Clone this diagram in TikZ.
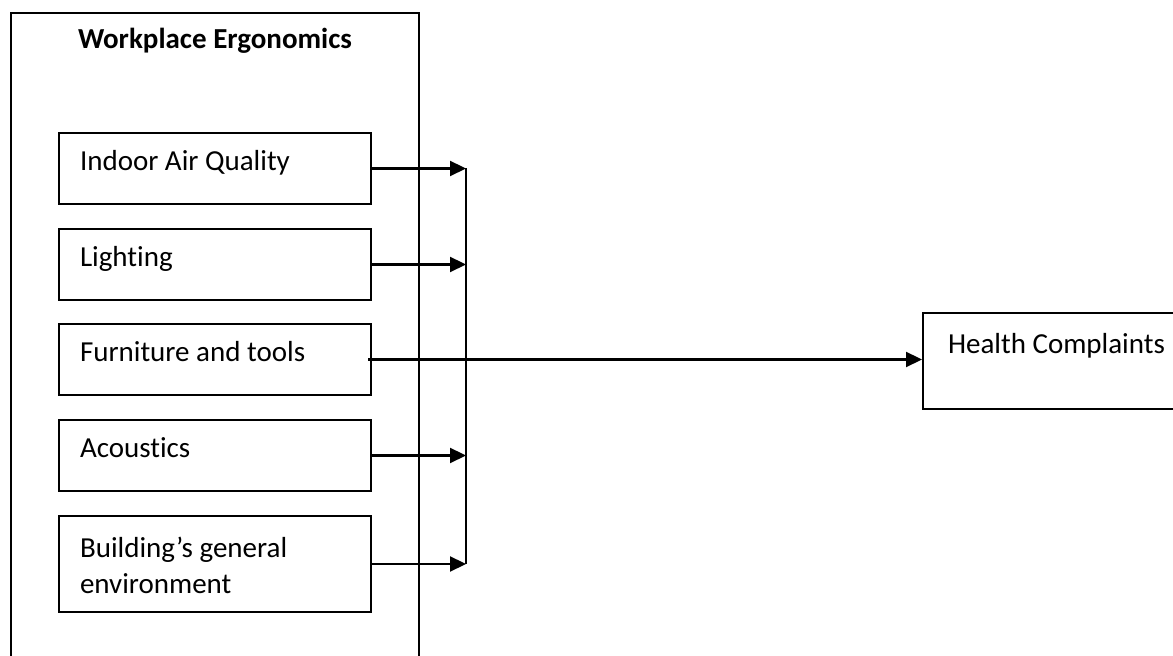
\documentclass[tikz,border=0pt]{standalone}
\usepackage{fontspec}
\setmainfont[Ligatures=NoCommon]{Carlito}
\usetikzlibrary{arrows.meta}
\tikzset{
	every node/.style={execute at begin node={\spaceskip=0pt\xspaceskip=0pt}},
	factor/.style={draw, line width=1pt, anchor=north west, inner xsep=10.5pt, inner ysep=0pt,
		text width=135pt, align=left, text height=19pt, text depth=16.5pt},
	flow/.style={-{Triangle[length=8pt,width=7.5pt]}, line width=1.1pt},
}
\begin{document}
\begin{tikzpicture}[x=0.5pt, y=-0.5pt, font=\fontsize{14.5}{18}\selectfont]
	\clip (0,0) rectangle (1173,656);
	% outer frame
	\node[draw, line width=1pt, anchor=north west, inner sep=0pt, minimum width=204pt,
		text height=18pt, text depth=311pt, font=\fontsize{14.5}{18}\selectfont\bfseries] (ergo) at (10,12) {Workplace Ergonomics};

	% factors
	\node[factor] (iaq) at (58,132) {Indoor Air Quality};
	\node[factor] (light) at (58,228) {Lighting};
	\node[factor] (furn) at (58,323) {Furniture and tools};
	\node[factor] (acou) at (58,419) {Acoustics};
	\node[factor, text height=21pt, text depth=27pt] (bge) at (58,515) {Building’s general\\environment};

	\node[factor, text width=150pt, inner xsep=12.5pt, text height=20.5pt, text depth=27.5pt] (hc) at (922,312) {Health Complaints};

	% connectors
	\coordinate (bus) at (466,0);
	\foreach \f in {iaq,light,acou,bge}
		\draw[flow] (\f.east) -- (\f.east -| bus);
	\draw[line width=1.1pt] (iaq.east -| bus) -- (bge.east -| bus);
	\draw[flow] ([xshift=-2pt]furn.east) -- (furn.east -| hc.west);
\end{tikzpicture}
\end{document}
